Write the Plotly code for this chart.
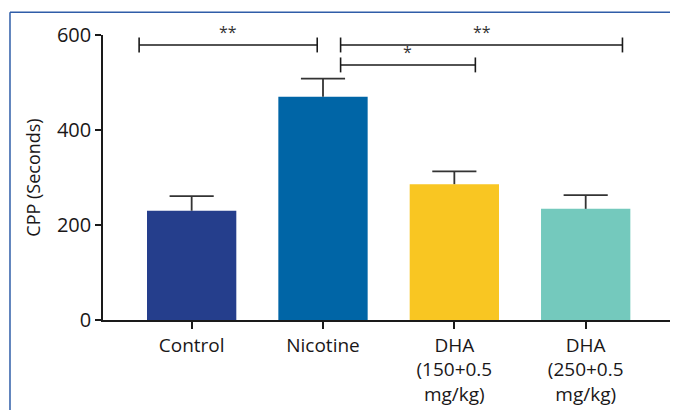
import plotly.graph_objects as go

categories = ["Control", "Nicotine", "DHA<br>(150+0.5<br>mg/kg)", "DHA<br>(250+0.5<br>mg/kg)"]
positions = [0, 1, 2, 3]
values = [230, 470, 286, 234]
errors = [31, 38, 27, 29]
colors = ["#253E8C", "#0065A6", "#F9C622", "#74C9BD"]
y_ticks = [0, 200, 400, 600]

# significance brackets (category units / data units)
br_x0 = [-0.40, 1.134, 1.134]
br_x1 = [0.956, 3.28, 2.16]
br_y = [579, 579, 537]
br_label = ["**", "**", "*"]

FONT = "Open Sans"
TXT = "#1a1718"
CAP = 0.168  # half cap width in category units

fig = go.Figure()
fig.add_trace(go.Bar(
    x=positions, y=values,
    marker=dict(color=colors, line=dict(width=0)),
    width=0.68, showlegend=False,
))

# upward-only error bars
ex, ey = [], []
for p, v, e in zip(positions, values, errors):
    ex += [p, p, None, p - CAP, p + CAP, None]
    ey += [v, v + e, None, v + e, v + e, None]
fig.add_trace(go.Scatter(x=ex, y=ey, mode="lines",
                         line=dict(color="#333333", width=1.8),
                         showlegend=False, hoverinfo="skip"))

shapes = []
tick_h = 15.7
for x0, x1, y in zip(br_x0, br_x1, br_y):
    shapes.append(dict(type="line", xref="x", yref="y", x0=x0, x1=x1, y0=y, y1=y,
                       line=dict(color="#1a1a1a", width=1.6)))
    for xx in (x0, x1):
        shapes.append(dict(type="line", xref="x", yref="y", x0=xx, x1=xx,
                           y0=y - tick_h, y1=y + tick_h,
                           line=dict(color="#1a1a1a", width=1.6)))

# outer blue frame
shapes.append(dict(type="line", xref="paper", yref="paper", x0=-0.1626, x1=1.03,
                   y0=1.0801, y1=1.0801, line=dict(color="#2F5DA8", width=1.5)))
shapes.append(dict(type="line", xref="paper", yref="paper", x0=-0.1626, x1=-0.1626,
                   y0=1.0801, y1=-0.36, line=dict(color="#2F5DA8", width=1.5)))

annotations = []
for x0, x1, y, lab in zip(br_x0, br_x1, br_y, br_label):
    annotations.append(dict(x=(x0 + x1) / 2, y=y, xref="x", yref="y", text=lab,
                            showarrow=False, yanchor="bottom", yshift=0,
                            font=dict(family=FONT, size=16, color="#333333")))

fig.update_layout(
    width=670, height=402,
    margin=dict(l=95, r=3, t=27, b=88),
    paper_bgcolor="white", plot_bgcolor="white",
    font=dict(family=FONT, size=19, color=TXT),
    shapes=shapes, annotations=annotations,
    xaxis=dict(range=[-0.675, 3.68], tickmode="array", tickvals=positions,
               ticktext=categories, ticks="outside", ticklen=7, tickwidth=1.5,
               tickcolor="#1a1a1a", showline=True, linecolor="#1a1a1a", linewidth=1.5,
               showgrid=False, zeroline=False, tickfont=dict(size=19)),
    yaxis=dict(range=[0, 600], tickmode="array", tickvals=y_ticks,
               ticks="outside", ticklen=6, tickwidth=1.5, tickcolor="#1a1a1a",
               showline=True, linecolor="#1a1a1a", linewidth=1.5,
               showgrid=False, zeroline=False, tickfont=dict(size=20),
               title=dict(text="CPP (Seconds)", font=dict(size=18), standoff=12)),
)

fig.write_html("out.html")
